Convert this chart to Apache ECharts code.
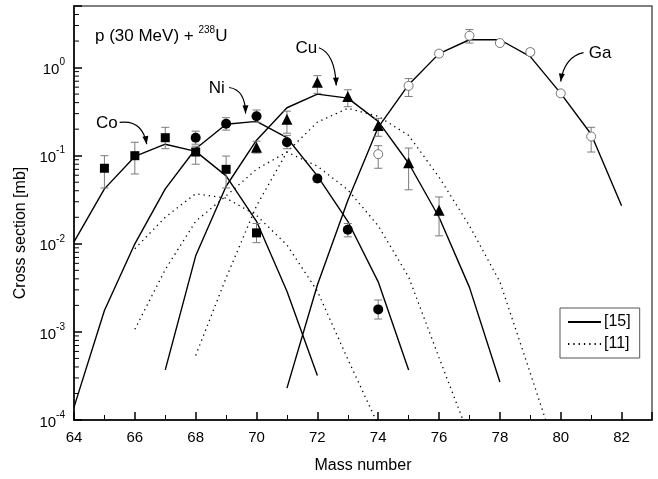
<!DOCTYPE html>
<html><head><meta charset="utf-8">
<script src="https://cdn.jsdelivr.net/npm/echarts@6/dist/echarts.min.js"></script>
<style>html,body{margin:0;padding:0;background:#fff}#c{width:658px;height:479px}</style>
</head><body><div id="c"></div>
<script>
// ---------- measured data ----------
const coMass = [65, 66, 67, 68, 69, 70];
const coVal  = [0.072, 0.10, 0.16, 0.11, 0.07, 0.0133];
const coLo   = [0.043, 0.062, 0.12, 0.08, 0.043, 0.0103];
const coHi   = [0.10, 0.142, 0.21, 0.128, 0.099, 0.017];

const niMass = [68, 69, 70, 71, 72, 73, 74];
const niVal  = [0.16, 0.23, 0.28, 0.142, 0.055, 0.0144, 0.0018];
const niLo   = [0.135, 0.195, 0.24, 0.12, 0.05, 0.012, 0.0014];
const niHi   = [0.19, 0.27, 0.33, 0.17, 0.06, 0.017, 0.0023];

const cuMass = [70, 71, 72, 73, 74, 75, 76];
const cuVal  = [0.125, 0.26, 0.68, 0.47, 0.22, 0.083, 0.024];
const cuLo   = [0.107, 0.18, 0.51, 0.36, 0.166, 0.041, 0.0123];
const cuHi   = [0.146, 0.32, 0.81, 0.56, 0.265, 0.122, 0.034];

const gaMass = [74, 75, 76, 77, 78, 79, 80, 81];
const gaVal  = [0.104, 0.62, 1.44, 2.3, 1.9, 1.5, 0.51, 0.165];
const gaLo   = [0.072, 0.47, 1.34, 1.9, 1.82, 1.38, 0.48, 0.11];
const gaHi   = [0.13, 0.75, 1.55, 2.7, 1.98, 1.62, 0.54, 0.21];

// calculation [15] (solid)
const co15Mass = [64, 65, 66, 67, 68, 69, 70, 71, 72];
const co15Val  = [0.0105, 0.042, 0.098, 0.135, 0.112, 0.059, 0.018, 0.0029, 0.00032];
const ni15Mass = [64, 65, 66, 67, 68, 69, 70, 71, 72, 73, 74, 75];
const ni15Val  = [0.00014, 0.00175, 0.0100, 0.042, 0.12, 0.227, 0.245, 0.16, 0.059, 0.018, 0.0037, 0.00037];
const cu15Mass = [67, 68, 69, 70, 71, 72, 73, 74, 75, 76, 77, 78];
const cu15Val  = [0.00037, 0.0073, 0.045, 0.15, 0.35, 0.50, 0.45, 0.245, 0.082, 0.020, 0.0032, 0.00027];
const ga15Mass = [71, 72, 73, 74, 75, 76, 77, 78, 79, 80, 81, 82];
const ga15Val  = [0.00023, 0.0034, 0.031, 0.21, 0.64, 1.44, 2.07, 2.07, 1.33, 0.51, 0.175, 0.027];

// calculation [11] (dotted)
const co11Mass = [66, 67, 68, 69, 70, 71, 72, 73, 74];
const co11Val  = [0.0088, 0.02, 0.037, 0.033, 0.021, 0.0097, 0.0029, 0.00049, 0.000088];
const ni11Mass = [66, 67, 68, 69, 70, 71, 72, 73, 74, 75, 76, 77];
const ni11Val  = [0.00107, 0.0051, 0.018, 0.035, 0.07, 0.11, 0.076, 0.041, 0.016, 0.0042, 0.00051, 0.000064];
const cu11Mass = [68, 69, 70, 71, 72, 73, 74, 75, 76, 77, 78, 79, 80];
const cu11Val  = [0.00054, 0.0041, 0.027, 0.11, 0.24, 0.345, 0.28, 0.17, 0.057, 0.016, 0.0037, 0.00034, 0.00003];

const xTicks = [64, 66, 68, 70, 72, 74, 76, 78, 80, 82];
const legendNames = ['[15]', '[11]'];

// annotation anchors (data coords: [mass, value])
const notes = [
  {text: 'Co', at: [64.72, 0.233], from: [65.5, 0.239], ctrl: [66.25, 0.258], to: [66.39, 0.135]},
  {text: 'Ni', at: [68.43, 0.579], from: [69.1, 0.594], ctrl: [69.63, 0.56], to: [69.64, 0.302]},
  {text: 'Cu', at: [71.28, 1.64], from: [72.05, 1.68], ctrl: [72.58, 1.44], to: [72.62, 0.626]},
  {text: 'Ga', at: [80.92, 1.44], from: [80.75, 1.48], ctrl: [80.12, 1.33], to: [80.0, 0.695]}
];
const titleAt = [64.69, 2.24];

// ---------- chart ----------
const FONT = '"Liberation Sans", Arial, sans-serif';
const zip = (xs, ys) => xs.map((x, i) => [x, ys[i]]);
const errData = (xs, lo, hi) => xs.map((x, i) => [x, lo[i], hi[i]]);

const minorVals = [];
for (let e = -4; e <= 0; e++) for (let k = 2; k <= 9; k++) {
  const v = k * Math.pow(10, e);
  if (v < 5) minorVals.push([64, v]);
}

function errRender(params, api) {
  const x = api.value(0);
  const lo = api.coord([x, api.value(1)]);
  const hi = api.coord([x, api.value(2)]);
  const w = 4;
  const st = {stroke: '#7a7a7a', lineWidth: 1};
  return {type: 'group', children: [
    {type: 'line', shape: {x1: lo[0], y1: lo[1], x2: hi[0], y2: hi[1]}, style: st},
    {type: 'line', shape: {x1: lo[0]-w, y1: lo[1], x2: lo[0]+w, y2: lo[1]}, style: st},
    {type: 'line', shape: {x1: hi[0]-w, y1: hi[1], x2: hi[0]+w, y2: hi[1]}, style: st}
  ]};
}

const solidStyle = {color: '#000', width: 1.4, type: 'solid'};
const dotStyle = {color: '#000', width: 1.3, type: [1.3, 4]};
function curve(name, xs, ys, style) {
  return {name, type: 'line', data: zip(xs, ys), symbol: 'none', showSymbol: false,
    lineStyle: style, itemStyle: {color: '#000'}, z: 2, silent: true, animation: false, clip: true};
}
function errSeries(xs, lo, hi) {
  return {type: 'custom', renderItem: errRender, data: errData(xs, lo, hi), z: 3, silent: true, animation: false};
}
function pts(name, xs, ys, symbol, size, fill, border) {
  return {name, type: 'scatter', data: zip(xs, ys), symbol, symbolSize: size,
    itemStyle: {color: fill, borderColor: border, borderWidth: border ? 1 : 0, opacity: 1}, z: 4, animation: false, silent: true};
}

const chart = echarts.init(document.getElementById('c'));
chart.setOption({
  animation: false,
  backgroundColor: '#fff',
  textStyle: {fontFamily: FONT},
  grid: {left: 74, right: 6, top: 6, bottom: 59, show: true, borderColor: '#555', borderWidth: 1.5, backgroundColor: 'transparent'},
  legend: {
    data: legendNames.map(n => ({name: n})),
    orient: 'vertical', left: 560, top: 308,
    itemWidth: 33, itemHeight: 12, itemGap: 6,
    padding: [6, 9, 6, 7],
    borderColor: '#555', borderWidth: 1, backgroundColor: '#fff',
    itemStyle: {opacity: 0, color: 'transparent', borderWidth: 0},
    textStyle: {fontFamily: FONT, fontSize: 16, color: '#000', padding: [0, 0, 0, -2]},
    selectedMode: false
  },
  xAxis: {
    type: 'value', min: 64, max: 83, interval: 2,
    name: 'Mass number', nameLocation: 'middle', nameGap: 38,
    nameTextStyle: {fontFamily: FONT, fontSize: 16, color: '#000'},
    axisLine: {show: true, lineStyle: {color: '#000', width: 1.5}},
    axisTick: {show: true, inside: true, length: 8, lineStyle: {color: '#000', width: 1.5}},
    minorTick: {show: true, splitNumber: 2, length: 5, lineStyle: {color: '#000', width: 1}},
    axisLabel: {fontFamily: FONT, fontSize: 15, color: '#000', margin: 10, showMaxLabel: false,
      formatter: v => xTicks.includes(v) ? String(v) : ''},
    splitLine: {show: false}
  },
  yAxis: {
    type: 'log', logBase: 10, min: 0.0001, max: 5,
    name: 'Cross section [mb]', nameLocation: 'middle', nameGap: 45, nameRotate: 90,
    nameTextStyle: {fontFamily: FONT, fontSize: 16, color: '#000', padding: [0, 0, 0, -40]},
    axisLine: {show: true, lineStyle: {color: '#000', width: 1.5}},
    axisTick: {show: true, inside: true, length: 8, lineStyle: {color: '#000', width: 1.5}},
    axisLabel: {
      fontFamily: FONT, color: '#000', margin: 9,
      formatter: v => {
        const l = Math.log10(v), e = Math.round(l);
        if (Math.abs(l - e) > 1e-6) return '';
        return '{b|10}{s|' + e + '}';
      },
      rich: {
        b: {fontFamily: FONT, fontSize: 15, color: '#000', lineHeight: 20, verticalAlign: 'bottom'},
        s: {fontFamily: FONT, fontSize: 10, color: '#000', lineHeight: 20, verticalAlign: 'top'}
      }
    },
    splitLine: {show: false}
  },
  series: [
    {type: 'custom', data: minorVals, silent: true, z: 1, animation: false,
      renderItem: (p, api) => {
        const c = api.coord([api.value(0), api.value(1)]);
        return {type: 'line', shape: {x1: c[0], y1: c[1], x2: c[0] + 5, y2: c[1]}, style: {stroke: '#000', lineWidth: 1}};
      }},
    curve('[15]', co15Mass, co15Val, solidStyle),
    curve('[15]', ni15Mass, ni15Val, solidStyle),
    curve('[15]', cu15Mass, cu15Val, solidStyle),
    curve('[15]', ga15Mass, ga15Val, solidStyle),
    curve('[11]', co11Mass, co11Val, dotStyle),
    curve('[11]', ni11Mass, ni11Val, dotStyle),
    curve('[11]', cu11Mass, cu11Val, dotStyle),
    errSeries(coMass, coLo, coHi),
    errSeries(niMass, niLo, niHi),
    errSeries(cuMass, cuLo, cuHi),
    errSeries(gaMass, gaLo, gaHi),
    pts('Co', coMass, coVal, 'rect', 9, '#000', null),
    pts('Ni', niMass, niVal, 'circle', 10, '#000', null),
    pts('Cu', cuMass, cuVal, 'triangle', 11, '#000', null),
    pts('Ga', gaMass, gaVal, 'circle', 9, '#fff', '#777')
  ]
});

// ---------- annotations ----------
const px = d => chart.convertToPixel({gridIndex: 0}, d);
const g = [];
const tp = px(titleAt);
g.push({type: 'text', x: tp[0], y: tp[1], style: {
  text: 'p (30 MeV) + {s|238}U', fontFamily: FONT, fontSize: 17, fill: '#000', verticalAlign: 'middle',
  rich: {s: {fontSize: 10, fontFamily: FONT, fill: '#000', verticalAlign: 'top', lineHeight: 22}}
}});
notes.forEach(n => {
  const a = px(n.at), s = px(n.from), c = px(n.ctrl), e = px(n.to);
  g.push({type: 'text', x: a[0], y: a[1], style: {text: n.text, fontFamily: FONT, fontSize: 17, fill: '#000', verticalAlign: 'middle'}});
  g.push({type: 'bezierCurve', shape: {x1: s[0], y1: s[1], x2: e[0], y2: e[1], cpx1: c[0], cpy1: c[1]},
    style: {stroke: '#000', lineWidth: 1.2, fill: null}});
  let dx = e[0] - c[0], dy = e[1] - c[1];
  const L = Math.hypot(dx, dy); dx /= L; dy /= L;
  const b = [e[0] - dx * 8, e[1] - dy * 8];
  g.push({type: 'polygon', shape: {points: [[e[0], e[1]], [b[0] - dy * 3, b[1] + dx * 3], [b[0] + dy * 3, b[1] - dx * 3]]},
    style: {fill: '#000'}});
});
chart.setOption({graphic: g});
</script>
</body></html>
